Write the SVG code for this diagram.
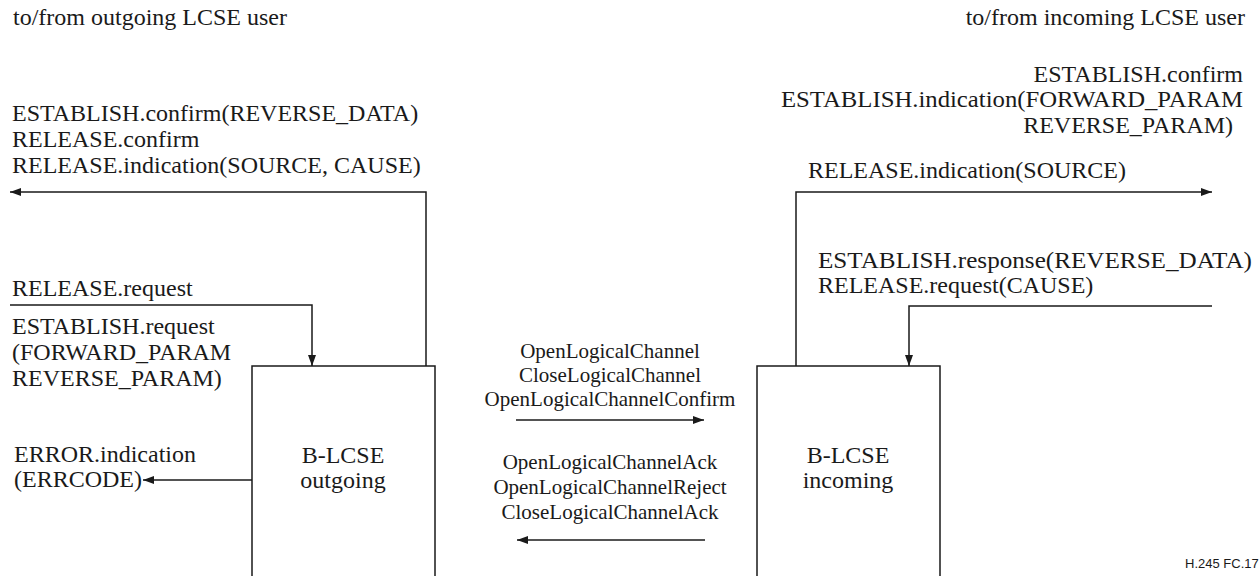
<svg xmlns="http://www.w3.org/2000/svg" width="1259" height="576" viewBox="0 0 1259 576">
<defs>
<marker id="ah" markerWidth="12" markerHeight="10" refX="11" refY="5" orient="auto" markerUnits="userSpaceOnUse">
<path d="M0,1 L11,5 L0,9 Z" fill="#1a1a1a"/>
</marker>
</defs>
<style>
.t{font-family:"Liberation Serif","Times New Roman",serif;font-size:24px;fill:#1a1a1a}
.m{font-family:"Liberation Serif","Times New Roman",serif;font-size:21px;fill:#1a1a1a;text-anchor:middle}
.c{text-anchor:middle}
.e{text-anchor:end}
.box{fill:#ffffff;stroke:#1a1a1a;stroke-width:1.5}
.ln{fill:none;stroke:#1a1a1a;stroke-width:1.5}
.fig{font-family:"Liberation Sans",Arial,sans-serif;font-size:13px;fill:#1a1a1a}
</style>
<rect width="1259" height="576" fill="#ffffff"/>

<g id="outgoing">
<path class="box" d="M252,580 V366 H435 V580"/>
<text class="t c" x="343" y="463">B-LCSE</text>
<text class="t c" x="343" y="488">outgoing</text>
</g>

<g id="incoming">
<path class="box" d="M757,580 V366 H940 V580"/>
<text class="t c" x="848" y="463">B-LCSE</text>
<text class="t c" x="848" y="488">incoming</text>
</g>

<g id="connectors">
<path class="ln" d="M426,366 V192 H10" marker-end="url(#ah)"/>
<path class="ln" d="M10,305 H312 V366" marker-end="url(#ah)"/>
<path class="ln" d="M252,480 H143" marker-end="url(#ah)"/>
<path class="ln" d="M516,420 H704" marker-end="url(#ah)"/>
<path class="ln" d="M705,540 H517" marker-end="url(#ah)"/>
<path class="ln" d="M796,366 V192 H1212" marker-end="url(#ah)"/>
<path class="ln" d="M1212,306 H909 V366" marker-end="url(#ah)"/>
</g>

<g id="labels-left">
<text class="t" x="13" y="25">to/from outgoing LCSE user</text>
<text class="t" x="12" y="121">ESTABLISH.confirm(REVERSE_DATA)</text>
<text class="t" x="12" y="147">RELEASE.confirm</text>
<text class="t" x="12" y="173">RELEASE.indication(SOURCE, CAUSE)</text>
<text class="t" x="12" y="296">RELEASE.request</text>
<text class="t" x="12" y="334">ESTABLISH.request</text>
<text class="t" x="12" y="360">(FORWARD_PARAM</text>
<text class="t" x="12" y="386">REVERSE_PARAM)</text>
<text class="t" x="14" y="462">ERROR.indication</text>
<text class="t" x="14" y="487">(ERRCODE)</text>
</g>

<g id="labels-middle">
<text class="m" x="610" y="358">OpenLogicalChannel</text>
<text class="m" x="610" y="382">CloseLogicalChannel</text>
<text class="m" x="610" y="406">OpenLogicalChannelConfirm</text>
<text class="m" x="610" y="469">OpenLogicalChannelAck</text>
<text class="m" x="610" y="494">OpenLogicalChannelReject</text>
<text class="m" x="610" y="519">CloseLogicalChannelAck</text>
</g>

<g id="labels-right">
<text class="t e" x="1245" y="25">to/from incoming LCSE user</text>
<text class="t e" x="1243" y="82">ESTABLISH.confirm</text>
<text class="t e" x="1243" y="107" textLength="462" lengthAdjust="spacingAndGlyphs">ESTABLISH.indication(FORWARD_PARAM</text>
<text class="t e" x="1233" y="133">REVERSE_PARAM)</text>
<text class="t" x="808" y="178">RELEASE.indication(SOURCE)</text>
<text class="t" x="818" y="268" textLength="434" lengthAdjust="spacingAndGlyphs">ESTABLISH.response(REVERSE_DATA)</text>
<text class="t" x="818" y="293">RELEASE.request(CAUSE)</text>
</g>

<text class="fig" x="1185" y="568">H.245  FC.17</text>
</svg>
